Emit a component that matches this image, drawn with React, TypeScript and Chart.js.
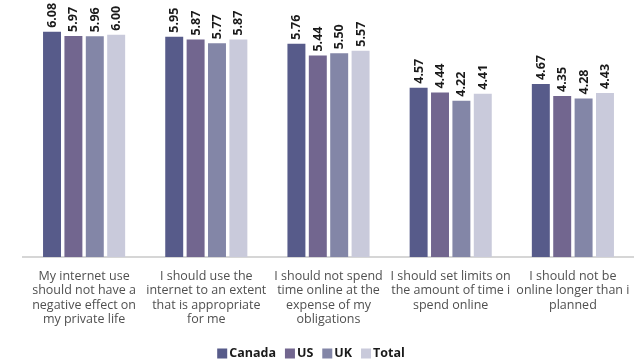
import React, { useEffect, useRef } from "react";
import { Chart, registerables } from "chart.js";

Chart.register(...registerables);

const categories: string[][] = [
  ["My internet use", "should not have a", "negative effect on", "my private life"],
  ["I should use the", "internet to an extent", "that is appropriate", "for me"],
  ["I should not spend", "time online at the", "expense of my", "obligations"],
  ["I should set limits on", "the amount of time i", "spend online"],
  ["I should not be", "online longer than i", "planned"],
];

const seriesNames = ["Canada", "US", "UK", "Total"];
const canada = [6.08, 5.95, 5.76, 4.57, 4.67];
const us = [5.97, 5.87, 5.44, 4.44, 4.35];
const uk = [5.96, 5.77, 5.5, 4.22, 4.28];
const total = [6.0, 5.87, 5.57, 4.41, 4.43];
const colors = ["#575b8a", "#72668f", "#8386a7", "#c9cadb"];

const FONT = "'Open Sans', Lato, sans-serif";

const valueLabels = {
  id: "valueLabels",
  afterDatasetsDraw(chart: any) {
    const ctx = chart.ctx;
    ctx.save();
    ctx.font = `bold 12.5px ${FONT}`;
    ctx.fillStyle = "#1a1a1a";
    ctx.textAlign = "left";
    ctx.textBaseline = "middle";
    chart.data.datasets.forEach((ds: any, i: number) => {
      const meta = chart.getDatasetMeta(i);
      meta.data.forEach((el: any, j: number) => {
        const v = ds.data[j] as number;
        ctx.save();
        ctx.translate(el.x + 0.5, el.y - 4);
        ctx.rotate(-Math.PI / 2);
        ctx.fillText(v.toFixed(2), 0, 0);
        ctx.restore();
      });
    });
    ctx.restore();
  },
};

const customLegend = {
  id: "customLegend",
  afterDraw(chart: any) {
    const ctx = chart.ctx;
    ctx.save();
    ctx.font = `bold 12.5px ${FONT}`;
    ctx.textBaseline = "middle";
    ctx.textAlign = "left";
    const box = 10;
    const gapText = 2;
    const gapItem = 9;
    const items = chart.data.datasets.map((ds: any) => ({
      label: ds.label as string,
      color: ds.backgroundColor as string,
      w: ctx.measureText(ds.label).width,
    }));
    const totalW = items.reduce((s: number, it: any) => s + box + gapText + it.w, 0) + gapItem * (items.length - 1);
    let x = chart.width / 2 - 6 - totalW / 2;
    const cy = 353.5;
    items.forEach((it: any) => {
      ctx.fillStyle = it.color;
      ctx.fillRect(x, cy - box / 2, box, box);
      x += box + gapText;
      ctx.fillStyle = "#1a1a1a";
      ctx.fillText(it.label, x, cy);
      x += it.w + gapItem;
    });
    ctx.restore();
  },
};

export default function App() {
  const ref = useRef<HTMLCanvasElement | null>(null);
  useEffect(() => {
    if (!ref.current) return;
    const data = [canada, us, uk, total];
    const chart = new Chart(ref.current, {
      type: "bar",
      data: {
        labels: categories,
        datasets: seriesNames.map((name, i) => ({
          label: name,
          data: data[i],
          backgroundColor: colors[i],
          categoryPercentage: 0.7,
          barPercentage: 0.84,
        })),
      },
      options: {
        animation: false,
        responsive: false,
        maintainAspectRatio: false,
        layout: { padding: { left: 23, right: 0, top: 0, bottom: 33 } },
        plugins: {
          legend: { display: false },
          tooltip: { enabled: false },
        },
        scales: {
          x: {
            grid: { display: false },
            border: { display: true, color: "#d6d6d6", width: 2 },
            ticks: {
              color: "#505050",
              maxRotation: 0,
              autoSkip: false,
              padding: 4,
              font: { family: FONT, size: 12.5, lineHeight: "14.5px" },
            },
          },
          y: {
            display: false,
            min: 0,
            max: 6.94,
          },
        },
      },
      plugins: [valueLabels, customLegend],
    });
    return () => chart.destroy();
  }, []);
  return (
    <div style={{ position: "fixed", left: 0, top: 0, width: 634, height: 364, background: "#fff" }}>
      <canvas ref={ref} width={634} height={364} />
    </div>
  );
}
